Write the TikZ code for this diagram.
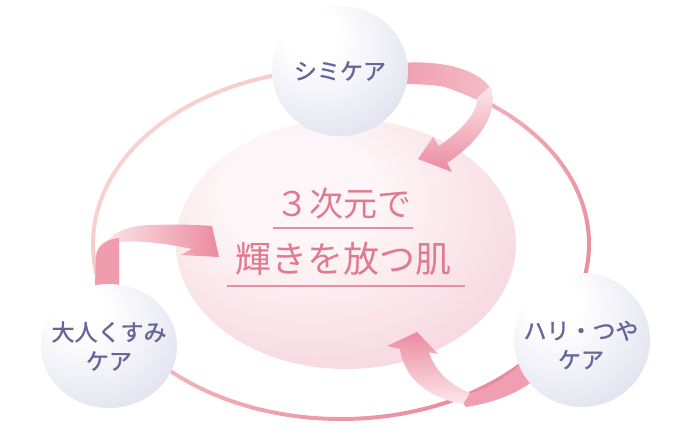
\documentclass[tikz,border=0pt]{standalone}
\usepackage{fontspec}
\usepackage{tikz}
\usetikzlibrary{shapes.geometric,positioning}
\newfontfamily\jpfont{Noto Sans CJK JP}
\newfontfamily\jpfontmed[FakeBold=1.2]{Noto Sans CJK JP}
\definecolor{ringlight}{HTML}{F8D2CF}
\definecolor{ringdark}{HTML}{E98A9D}
\definecolor{blobin}{HTML}{FDF5F7}
\definecolor{blobout}{HTML}{F1B7C6}
\definecolor{arrowdark}{HTML}{EB8AA0}
\definecolor{arrowmid}{HTML}{EF9FB1}
\definecolor{arrowlight}{HTML}{FCE8EA}
\definecolor{pearlmid}{HTML}{E3E3F0}
\definecolor{pearledge}{HTML}{A0A0C8}
\definecolor{careink}{HTML}{66669A}
\definecolor{skinink}{HTML}{E07A90}
\pgfdeclareradialshading{pearl}{\pgfpoint{-12bp}{16bp}}{color(0bp)=(white); color(10bp)=(white); color(36bp)=(pearlmid); color(58bp)=(pearledge); color(72bp)=(pearledge)}
\pgfdeclareradialshading{glow}{\pgfpoint{-8bp}{12bp}}{color(0bp)=(blobin); color(12bp)=(blobin); color(58bp)=(blobout); color(75bp)=(blobout)}

\begin{document}
\begin{tikzpicture}[x=1pt, y=-1pt,
  pearlball/.style={ellipse, shading=pearl, minimum width=136pt, inner sep=0pt},
  caretext/.style={text=careink, inner sep=0pt, align=center, font=\jpfontmed\fontsize{23}{29}\selectfont},
  skintext/.style={text=skinink, inner sep=0pt},
  uline/.style={skinink!85!white, line width=2.6pt}]
  \useasboundingbox (0,0) rectangle (680,436);
  % ring round everything
  \shade[top color=ringlight, bottom color=ringdark, shading angle=45, even odd rule]
    (341,244) ellipse [x radius=250, y radius=177] (341,244) ellipse [x radius=246, y radius=173];
  \node[ellipse, shading=glow, minimum width=340pt, minimum height=250pt] (skin) at (346,244) {};
  % arrow from the top ball
  \shade[left color=arrowmid, right color=arrowlight!40!arrowmid] (400,63) .. controls (440,60) and (478,68) .. (492,90) -- (479,101) .. controls (466,88) and (440,84) .. (400,84) -- cycle;
  \shade[top color=arrowlight, bottom color=arrowdark] (490,86) .. controls (500,110) and (482,140) .. (447,163) -- (452,172) -- (418,159) -- (433,137) -- (439,146) .. controls (462,130) and (478,112) .. (477,98) -- cycle;
  % arrow from the left ball
  \shade[left color=arrowlight, right color=arrowdark] (101,252) .. controls (106,236) and (122,226) .. (150,225) .. controls (180,224) and (200,225) .. (212,226) -- (219,257) -- (181,255) -- (192,249) .. controls (170,244) and (140,240) .. (119,242) .. controls (112,243) and (107,247) .. (104,252) -- cycle;
  \fill[arrowmid!85!arrowdark] (95,285) -- (96,256) .. controls (97,246) and (106,239) .. (119,238) -- (119,285) -- cycle;
  % arrow from the right ball
  \fill[arrowmid] (530,355) .. controls (512,374) and (490,390) .. (458,397) -- (466,407) .. controls (498,402) and (518,392) .. (532,382) -- cycle;
  \shade[top color=arrowdark, bottom color=arrowlight] (400,349) .. controls (404,378) and (428,398) .. (463,404) -- (470,393) .. controls (450,385) and (434,370) .. (429,352) -- (438,354) -- (417,332) -- (387,346) -- cycle;
  % the three balls
  \node[pearlball, minimum height=130pt] (shimi) at (340,71) {};
  \node[pearlball, minimum height=124pt] (kusumi) at (109,346) {};
  \node[pearlball, minimum height=134pt] (hari) at (582,340) {};
  \node[caretext] (shimiT) at (shimi) {シミケア};
  \node[caretext] (kusumiT) at (kusumi) {大人くすみ\\ケア};
  \node[caretext] (hariT) at (581,345) {ハリ・つや\\ケア};
  % centre text
  \node[skintext, font=\jpfont\fontsize{34}{34}\selectfont] (line1) at (343,204) {３次元で};
  \node[skintext, font=\jpfont\fontsize{36}{36}\selectfont] (line2) at (343,259) {輝きを放つ肌};
  \draw[uline] (273,228) -- (413,228);
  \draw[uline] (227,286) -- (465,286);
\end{tikzpicture}
\end{document}
